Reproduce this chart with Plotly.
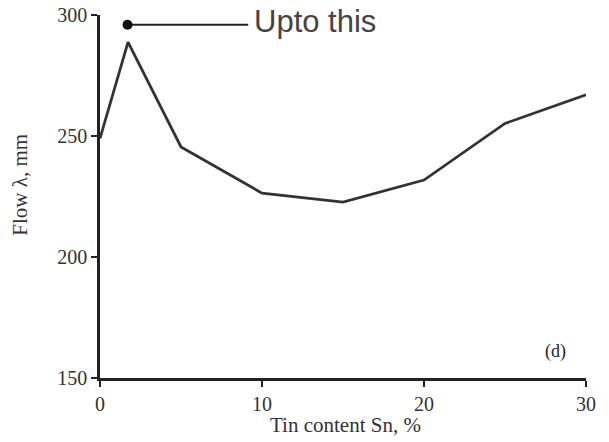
import plotly.graph_objects as go

tin_content = [0, 1.73, 5, 10, 15, 20, 25, 30]
flow_mm = [249, 288.8, 245.5, 226.4, 222.7, 231.8, 255.2, 267]

note_x = [1.7, 9.15]
note_y = [296, 296]
note_text = "Upto this"
panel_label = "(d)"

x_ticks = [0, 10, 20, 30]
y_ticks = [150, 200, 250, 300]

serif = "Liberation Serif, Times New Roman, serif"

fig = go.Figure()
fig.add_trace(go.Scatter(x=tin_content, y=flow_mm, mode="lines",
                         line=dict(color="#333333", width=2.8), cliponaxis=False,
                         showlegend=False))
fig.add_trace(go.Scatter(x=note_x, y=note_y, mode="lines",
                         line=dict(color="#222222", width=2), cliponaxis=False,
                         showlegend=False))
fig.add_trace(go.Scatter(x=[note_x[0]], y=[note_y[0]], mode="markers",
                         marker=dict(color="#111111", size=10), cliponaxis=False,
                         showlegend=False))
fig.add_annotation(x=note_x[1], y=note_y[1], text=note_text, showarrow=False,
                   xanchor="left", yanchor="middle", xshift=4, yshift=3,
                   font=dict(family="Liberation Sans, Arial", size=31, color="#444444"))
fig.add_annotation(x=28.1, y=161, text=panel_label, showarrow=False,
                   font=dict(family=serif, size=18, color="#222222"))
# axis titles
fig.add_annotation(xref="paper", yref="paper", x=0.506, y=-0.129, text="Tin content Sn, %",
                   showarrow=False, xanchor="center", yanchor="middle",
                   font=dict(family=serif, size=21, color="#333333"))
fig.add_annotation(xref="paper", yref="paper", x=-0.165, y=0.532, text="Flow λ, mm",
                   showarrow=False, xanchor="center", yanchor="middle", textangle=-90,
                   font=dict(family=serif, size=21, color="#333333"))

axis_font = dict(family=serif, size=20, color="#333333")
fig.update_layout(
    width=609, height=442,
    margin=dict(l=100, r=23, t=15, b=64, autoexpand=False),
    paper_bgcolor="white", plot_bgcolor="white",
    xaxis=dict(range=[0, 30], tickvals=x_ticks, ticks="outside", ticklen=6, tickwidth=2,
               tickcolor="#222222", showline=True, linecolor="#222222", linewidth=2.5,
               showgrid=False, zeroline=False, tickfont=axis_font, automargin=False,
               ticklabeloverflow="allow"),
    yaxis=dict(range=[150, 300], tickvals=y_ticks, ticks="outside", ticklen=6, tickwidth=2,
               tickcolor="#222222", showline=True, linecolor="#222222", linewidth=2.5,
               showgrid=False, zeroline=False, tickfont=axis_font, automargin=False,
               ticklabeloverflow="allow"),
)
fig.write_html("out.html", config={"displayModeBar": False},
               post_script="document.body.style.margin='0';document.body.style.overflow='hidden';")
